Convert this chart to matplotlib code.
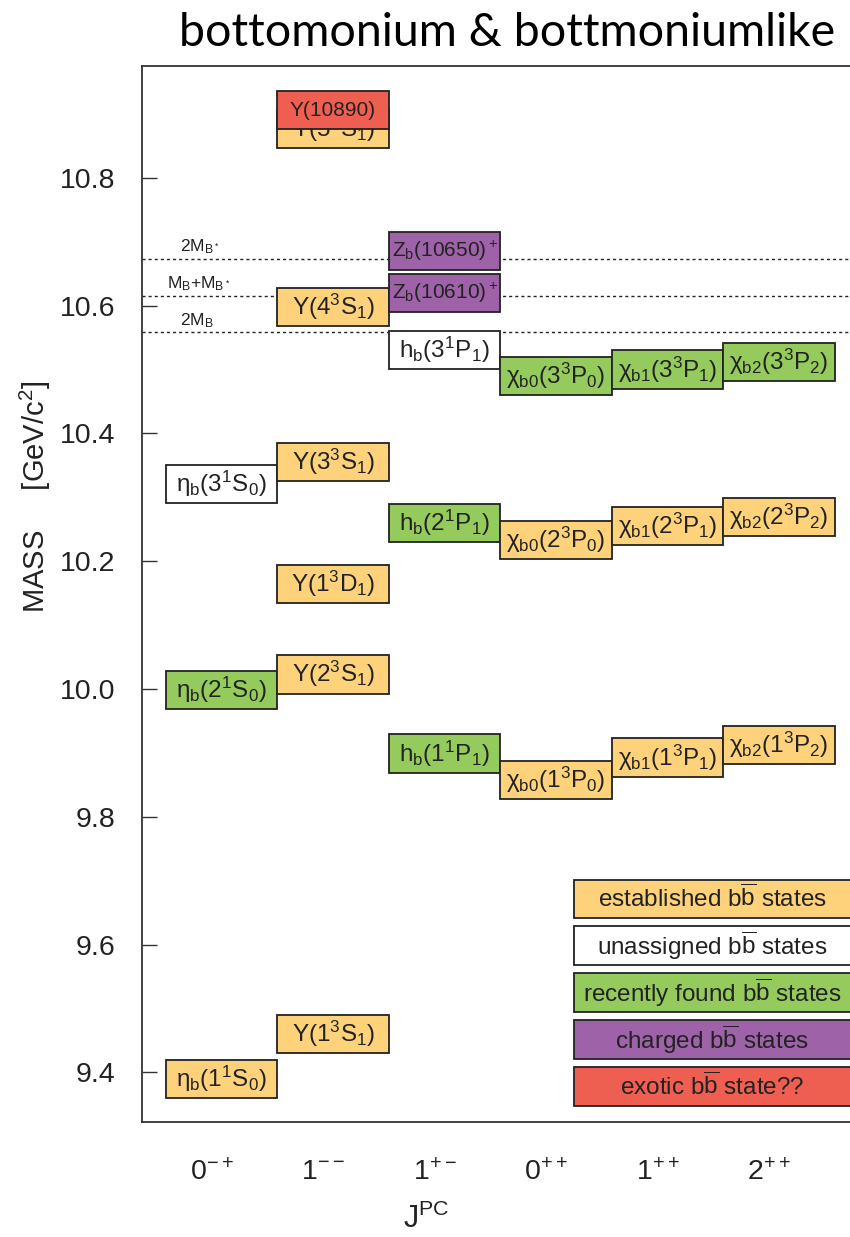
import matplotlib
matplotlib.use("Agg")
import matplotlib.pyplot as plt
from matplotlib.patches import Rectangle
import matplotlib.transforms as mtransforms

plt.rcParams['font.family'] = ['Liberation Sans', 'DejaVu Sans']
plt.rcParams['mathtext.fontset'] = 'custom'
plt.rcParams['mathtext.rm'] = 'Liberation Sans'
plt.rcParams['mathtext.it'] = 'Liberation Sans'
plt.rcParams['mathtext.bf'] = 'Liberation Sans:bold'

# J^PC columns
jpc_labels = ['0$^{-+}$', '1$^{--}$', '1$^{+-}$', '0$^{++}$', '1$^{++}$', '2$^{++}$']

# states (order = drawing order, later ones cover earlier ones)
state_labels = [
    'η$_b$(1$^1$S$_0$)', 'Υ(1$^3$S$_1$)', 'η$_b$(2$^1$S$_0$)', 'Υ(2$^3$S$_1$)',
    'Υ(1$^3$D$_1$)', 'η$_b$(3$^1$S$_0$)', 'Υ(3$^3$S$_1$)', 'Υ(4$^3$S$_1$)',
    'Υ(5$^3$S$_1$)', 'Υ(10890)',
    'h$_b$(1$^1$P$_1$)', 'h$_b$(2$^1$P$_1$)', 'h$_b$(3$^1$P$_1$)',
    'Z$_b$(10610)$^+$', 'Z$_b$(10650)$^+$',
    'χ$_{b0}$(1$^3$P$_0$)', 'χ$_{b1}$(1$^3$P$_1$)', 'χ$_{b2}$(1$^3$P$_2$)',
    'χ$_{b0}$(2$^3$P$_0$)', 'χ$_{b1}$(2$^3$P$_1$)', 'χ$_{b2}$(2$^3$P$_2$)',
    'χ$_{b0}$(3$^3$P$_0$)', 'χ$_{b1}$(3$^3$P$_1$)', 'χ$_{b2}$(3$^3$P$_2$)',
]
state_col = [0, 1, 0, 1, 1, 0, 1, 1, 1, 1,
             2, 2, 2, 2, 2,
             3, 4, 5, 3, 4, 5, 3, 4, 5]
state_mass = [9.390, 9.460, 9.999, 10.023, 10.164, 10.321, 10.355, 10.598,
              10.876, 10.906,
              9.899, 10.260, 10.531, 10.620, 10.686,
              9.858, 9.893, 9.912, 10.233, 10.255, 10.269, 10.490, 10.500, 10.512]
state_kind = ['est', 'est', 'new', 'est', 'est', 'una', 'est', 'est', 'est', 'exo',
              'new', 'new', 'una', 'chg', 'chg',
              'est', 'est', 'est', 'est', 'est', 'est', 'new', 'new', 'new']

# thresholds
thr_labels = ['2M$_{B^*}$', 'M$_B$+M$_{B^*}$', '2M$_B$']
thr_mass = [10.673, 10.615, 10.558]

# legend
legend_kinds = ['est', 'una', 'new', 'chg', 'exo']
legend_labels = ['established b$\\overline{b}$ states', 'unassigned b$\\overline{b}$ states',
                 'recently found b$\\overline{b}$ states', 'charged b$\\overline{b}$ states',
                 'exotic b$\\overline{b}$ state??']

colors = {'est': '#fdd27a', 'una': '#ffffff', 'new': '#95cb5d',
          'chg': '#9e62a8', 'exo': '#ef5f51'}

fig = plt.figure(figsize=(8.5, 12.37), dpi=100)
ax = fig.add_axes([141.7 / 850, 1 - 1121.7 / 1237, (860 - 141.7) / 850, (1121.7 - 66) / 1237])
ax.set_xlim(-0.716, 5.726)
ax.set_ylim(9.323, 10.975)

box_h = 0.060
for i, (lab, c, m, k) in enumerate(zip(state_labels, state_col, state_mass, state_kind)):
    ax.add_patch(Rectangle((c - 0.5, m - box_h / 2), 1.0, box_h, facecolor=colors[k],
                           edgecolor='#222222', lw=1.3, zorder=3 + 2 * i))
    fs = 15 if lab.startswith('Z') or lab == 'Υ(10890)' else 17.5
    ax.text(c, m, lab, ha='center', va='center', fontsize=fs, color='#222222', zorder=4 + 2 * i)

for lab, m in zip(thr_labels, thr_mass):
    ax.axhline(m, color='#222222', lw=1.0, ls=(0, (2.2, 2.2)), zorder=1)
    x0 = -0.491 if '+' in lab else -0.372
    ax.text(x0, m + 0.004, lab, ha='left', va='bottom', fontsize=12.5, color='#222222')

leg_top = 9.672
leg_step = 0.0735
for i, (k, lab) in enumerate(zip(legend_kinds, legend_labels)):
    y = leg_top - i * leg_step
    ax.add_patch(Rectangle((3.164, y - box_h / 2), 2.48, box_h, facecolor=colors[k],
                           edgecolor='#222222', lw=1.3, zorder=60))
    ax.text(4.40, y, lab, ha='center', va='center', fontsize=17.5, color='#222222', zorder=61)

# axes styling
for s in ['top', 'bottom', 'left']:
    ax.spines[s].set_color('#333333')
    ax.spines[s].set_linewidth(1.3)
ax.spines['right'].set_visible(False)

ax.set_yticks([9.4, 9.6, 9.8, 10.0, 10.2, 10.4, 10.6, 10.8])
ax.set_yticklabels(['9.4', '9.6', '9.8', '10.0', '10.2', '10.4', '10.6', '10.8'])
ax.tick_params(axis='y', direction='in', length=10.8, width=1.0, pad=19,
               labelsize=20.5, color='#333333', labelcolor='#222222')
ax.set_xticks(range(len(jpc_labels)))
ax.set_xticklabels(jpc_labels)
ax.tick_params(axis='x', length=0, pad=27, labelsize=20.5, labelcolor='#222222')
shift = mtransforms.ScaledTranslation(-10 / 100, 0, fig.dpi_scale_trans)
for t in ax.get_xticklabels():
    t.set_transform(t.get_transform() + shift)

ax.set_xlabel('J$^{PC}$', fontsize=22, color='#222222')
ax.xaxis.set_label_coords((426 - 141.7) / (860 - 141.7), -(1204 - 1121.7) / (1121.7 - 66))
ax.set_ylabel('MASS     [GeV/c$^2$]', fontsize=21, color='#222222')
ax.yaxis.set_label_coords(-(141.7 - 53) / (860 - 141.7), (1121.7 - 497) / (1121.7 - 66))

fig.text(507.5 / 850, 1 - 33 / 1237, 'bottomonium & bottmoniumlike', ha='center', va='center',
         fontsize=33.5, family='Lato', color='black')

fig.savefig('out.png', dpi=100)
